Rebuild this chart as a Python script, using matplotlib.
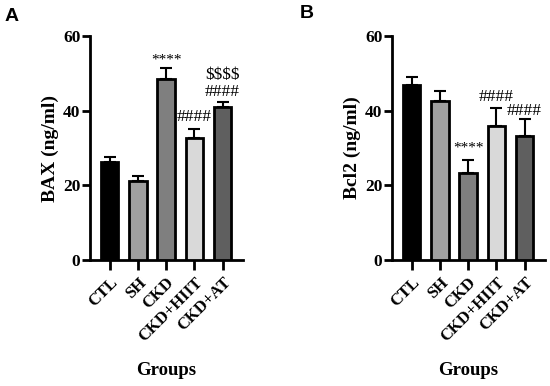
import numpy as np
import matplotlib.pyplot as plt

groups = ["CTL", "SH", "CKD", "CKD+HIIT", "CKD+AT"]
bar_colors = ["#000000", "#a0a0a0", "#7f7f7f", "#d9d9d9", "#5f5f5f"]

bax_mean = [26.3, 21.2, 48.5, 32.8, 41.0]
bax_sd = [1.4, 1.3, 3.0, 2.2, 1.4]
bcl2_mean = [46.9, 42.7, 23.3, 35.8, 33.2]
bcl2_sd = [2.1, 2.6, 3.5, 5.0, 4.6]

# significance marks: (bar index, y value, text)
bax_marks = [(2, 53.6, "****"), (3, 38.3, "####"), (4, 45.0, "####"), (4, 49.6, "$$$$")]
bcl2_marks = [(2, 30.0, "****"), (3, 43.7, "####"), (4, 40.0, "####")]

plt.rcParams["font.family"] = "Liberation Serif"
plt.rcParams["font.weight"] = "bold"

fig = plt.figure(figsize=(5.5, 3.86), dpi=100)
axA = fig.add_axes([0.1636, 0.3264, 0.2782, 0.5803])
axB = fig.add_axes([0.7127, 0.3264, 0.2782, 0.5803])


def panel(ax, means, sds, marks, ylabel):
    x = np.arange(len(groups))
    ax.bar(x, means, width=0.62, color=bar_colors, edgecolor="black",
           linewidth=2, zorder=3)
    ax.errorbar(x, means, yerr=[np.zeros(len(sds)), sds], fmt="none",
                ecolor="black", elinewidth=1.5, capsize=4, capthick=1.5,
                zorder=2)
    for i, y, t in marks:
        fs = 11 if t.startswith("*") else 12.5
        ax.text(x[i], y, t, ha="center", va="center", fontsize=fs,
                fontweight="normal", parse_math=False)
    ax.set_xlim(-0.7, 4.72)
    ax.set_ylim(0, 60)
    ax.set_yticks([0, 20, 40, 60])
    ax.set_xticks(x)
    ax.set_xticklabels(groups, rotation=45, ha="right", rotation_mode="anchor",
                       fontsize=12, fontweight="bold")
    for lab in ax.get_yticklabels():
        lab.set_fontsize(12.5)
        lab.set_fontweight("bold")
    for s in ["top", "right"]:
        ax.spines[s].set_visible(False)
    for s in ["left", "bottom"]:
        ax.spines[s].set_linewidth(2)
    ax.tick_params(axis="y", width=2, length=6, pad=1)
    ax.tick_params(axis="x", width=2, length=7.5, pad=3)
    ax.set_ylabel(ylabel, fontsize=14, fontweight="bold", labelpad=3)
    ax.set_xlabel("Groups", fontsize=13.5, fontweight="bold", labelpad=12)


panel(axA, bax_mean, bax_sd, bax_marks, "BAX (ng/ml)")
panel(axB, bcl2_mean, bcl2_sd, bcl2_marks, "Bcl2 (ng/ml)")

fig.text(0.008, 0.957, "A", fontsize=14, fontweight="bold",
         family="Liberation Sans", va="center")
fig.text(0.545, 0.965, "B", fontsize=14, fontweight="bold",
         family="Liberation Sans", va="center")

fig.savefig("out.png", dpi=100)
